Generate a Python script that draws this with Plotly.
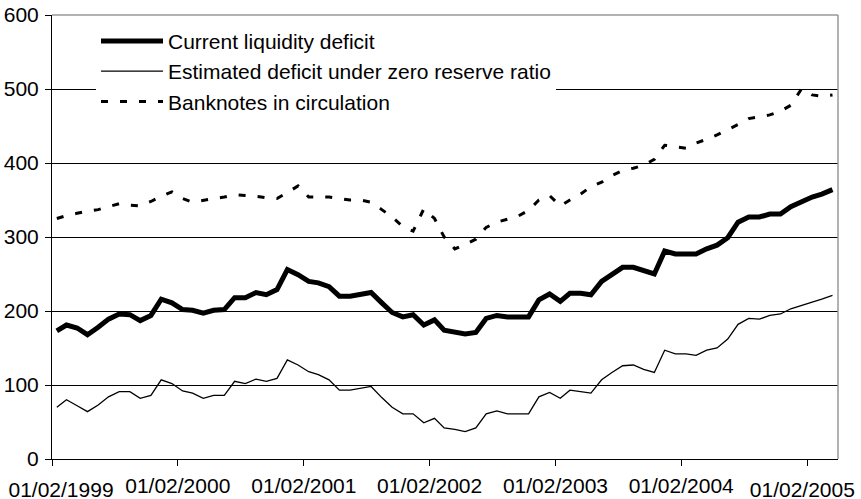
import pandas as pd
import plotly.graph_objects as go

# monthly observations, Feb 1999 - Apr 2005 (EUR bn)
months = pd.date_range('1999-02-01', periods=75, freq='MS') + pd.Timedelta(days=14)

current_deficit = [
    173, 181, 177, 168, 178, 189, 196, 195, 187, 194,
    216, 211, 202, 201, 197, 201, 202, 218, 218, 225,
    222, 229, 256, 249, 240, 238, 233, 220, 220, 222,
    225, 211, 198, 192, 195, 181, 188, 174, 172, 169,
    171, 190, 194, 192, 192, 192, 215, 223, 213, 224,
    224, 222, 240, 250, 259, 259, 255, 250, 281, 277,
    277, 277, 284, 289, 299, 320, 327, 327, 331, 331,
    341, 348, 354, 358, 364,
]

zero_reserve_deficit = [
    70, 80, 72, 64, 73, 84, 91, 91, 82, 86,
    107, 102, 92, 89, 82, 86, 86, 105, 102, 108,
    105, 109, 134, 127, 118, 114, 107, 93, 93, 95,
    98, 83, 70, 61, 61, 49, 55, 42, 40, 37,
    42, 61, 65, 61, 61, 61, 84, 90, 82, 93,
    91, 89, 107, 117, 126, 127, 121, 117, 147, 142,
    142, 140, 147, 150, 162, 182, 190, 189, 194, 196,
    203, 208, 212, 216, 221,
]

banknotes = [
    325, 329, 332, 335, 337, 341, 345, 343, 342, 348,
    355, 361, 352, 347, 350, 352, 354, 357, 356, 355,
    353, 352, 360, 369, 354, 354, 354, 352, 350, 350,
    347, 337, 327, 314, 308, 338, 325, 300, 284, 290,
    297, 313, 320, 324, 328, 336, 350, 356, 342, 350,
    358, 368, 374, 383, 390, 393, 397, 405, 424, 422,
    420, 427, 432, 438, 445, 452, 460, 463, 465, 470,
    478, 500, 492, 490, 492,
]

tick_dates = ['1999-02-01', '2000-02-01', '2001-02-01', '2002-02-01',
              '2003-02-01', '2004-02-01', '2005-02-01']
tick_labels = ['01/02/1999', '01/02/2000', '01/02/2001', '01/02/2002',
               '01/02/2003', '01/02/2004', '01/02/2005']

FONT = 'Liberation Sans, Arial, sans-serif'
X_RANGE = ['1999-02-01', '2005-05-01']


def edge_axis(date, label, shift):
    # overlaid copy of the date axis carrying one label, nudged inside the page
    return dict(
        type='date', range=X_RANGE, overlaying='x', anchor='y', side='bottom',
        tickvals=[date], ticktext=[label], ticks='', showgrid=False,
        showline=False, zeroline=False, automargin=False,
        tickfont=dict(size=21), ticklabeloverflow='allow',
        ticklabelstandoff=16, ticklabelshift=shift,
    )


def build_figure():
    fig = go.Figure()
    fig.add_trace(go.Scatter(x=months, y=current_deficit, mode='lines',
                             name='Current liquidity deficit',
                             line=dict(color='black', width=5)))
    fig.add_trace(go.Scatter(x=months, y=zero_reserve_deficit, mode='lines',
                             name='Estimated deficit under zero reserve ratio',
                             xaxis='x3',
                             line=dict(color='black', width=1.3)))
    fig.add_trace(go.Scatter(x=months, y=banknotes, mode='lines',
                             name='Banknotes in circulation',
                             xaxis='x2',
                             line=dict(color='black', width=3, dash='7px,12px')))

    inner_labels = [''] + tick_labels[1:-1] + ['']

    fig.update_layout(
        width=861, height=499,
        margin=dict(l=52, r=23, t=15, b=40),
        paper_bgcolor='white', plot_bgcolor='white',
        font=dict(family=FONT, size=21, color='black'),
        showlegend=True,
        legend=dict(x=0.056, y=0.987, xanchor='left', yanchor='top',
                    bgcolor='white', borderwidth=0, itemwidth=62,
                    font=dict(size=21), tracegroupgap=0),
        xaxis2=edge_axis(tick_dates[0], tick_labels[0], 9),
        xaxis3=edge_axis(tick_dates[-1], tick_labels[-1], -5),
    )
    fig.update_layout(xaxis=dict(
        type='date', range=X_RANGE,
        tickvals=tick_dates, ticktext=inner_labels,
        showgrid=False, zeroline=False, automargin=False,
        showline=True, linecolor='black', linewidth=1,
        ticks='outside', ticklen=6, tickcolor='black',
        tickfont=dict(size=21), ticklabeloverflow='allow',
        ticklabelstandoff=2,
    ))
    fig.update_yaxes(
        range=[0, 600], tickvals=[0, 100, 200, 300, 400, 500, 600],
        showgrid=True, gridcolor='black', gridwidth=1, zeroline=False,
        automargin=False,
        showline=True, linecolor='black', linewidth=1,
        ticks='outside', ticklen=6, tickcolor='black',
        tickfont=dict(size=21), ticklabelstandoff=2,
    )
    # grey frame on top and right of the plot area
    fig.add_shape(type='line', xref='paper', yref='paper', x0=0, x1=1, y0=1, y1=1,
                  line=dict(color='#999999', width=1.5))
    fig.add_shape(type='line', xref='paper', yref='paper', x0=1, x1=1, y0=0, y1=1,
                  line=dict(color='#999999', width=1.5))
    return fig


def main():
    fig = build_figure()
    # drop the default page margin so the chart sits at the window origin
    fig.write_html('out.html', config={'displayModeBar': False},
                   post_script="document.body.style.margin = '0';")


if __name__ == '__main__':
    main()
